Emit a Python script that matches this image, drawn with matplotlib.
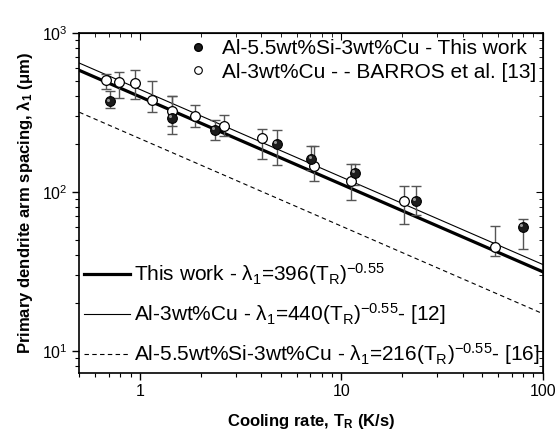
import matplotlib
matplotlib.use("Agg")
import matplotlib.pyplot as plt
import matplotlib.transforms as mtransforms
from matplotlib.lines import Line2D
import numpy as np

plt.rcParams["font.family"] = ["Liberation Sans", "DejaVu Sans"]
plt.rcParams["mathtext.fontset"] = "custom"
plt.rcParams["mathtext.rm"] = "Liberation Sans"
plt.rcParams["mathtext.it"] = "Liberation Sans"
plt.rcParams["mathtext.bf"] = "Liberation Sans:bold"
plt.rcParams["mathtext.default"] = "regular"

# ---- data: this work (Al-5.5wt%Si-3wt%Cu) ----
tr_work = [0.71, 1.44, 2.36, 4.79, 7.09, 11.65, 23.5, 79.8]
lam_work = [370, 293, 245, 200, 161, 131, 87.5, 60]
err_lo_work = [32, 61, 33, 52, 24, 21, 16, 16]
err_up_work = [61, 105, 36, 45, 32, 18, 22, 7]

# ---- data: Al-3wt%Cu, BARROS et al. ----
tr_barros = [0.68, 0.79, 0.94, 1.15, 1.45, 1.88, 2.62, 4.03, 7.34, 11.2, 20.4, 57.7]
lam_barros = [506, 490, 480, 378, 324, 299, 260, 218, 146, 117, 87.5, 45.3]
err_lo_barros = [61, 100, 95, 61, 66, 45, 37, 58, 29, 28, 25, 6]
err_up_barros = [46, 80, 100, 116, 74, 53, 42, 31, 47, 32, 22, 16]

# ---- fitted power laws lambda = A * TR^b ----
fit_coef = [396, 440, 216]
fit_exp = -0.55
fit_labels = [
    r"This work - λ$_1$=396(T$_R$)$^{-0.55}$",
    r"Al-3wt%Cu - λ$_1$=440(T$_R$)$^{-0.55}$- [12]",
    r"Al-5.5wt%Si-3wt%Cu - λ$_1$=216(T$_R$)$^{-0.55}$- [16]",
]

fig = plt.figure(figsize=(5.56, 4.41), dpi=100)
ax = fig.add_axes([0.1426, 0.1549, 0.8335, 0.7710])
ax.set_xscale("log")
ax.set_yscale("log")
ax.set_xlim(0.5, 100)
ax.set_ylim(7.3, 1000)

xfit = np.logspace(np.log10(0.5), 2, 200)
styles = [dict(color="black", lw=2.3, ls="-"),
          dict(color="black", lw=0.8, ls="-"),
          dict(color="black", lw=0.8, ls=(0, (4, 3)))]
for a, st in zip(fit_coef, styles):
    ax.plot(xfit, a * xfit ** fit_exp, **st, zorder=2)

ax.errorbar(tr_barros, lam_barros, yerr=[err_lo_barros, err_up_barros], fmt="none",
            ecolor="#555555", elinewidth=1, capsize=3.5, capthick=1, zorder=3)
ax.errorbar(tr_work, lam_work, yerr=[err_lo_work, err_up_work], fmt="none",
            ecolor="#555555", elinewidth=1, capsize=3.5, capthick=1, zorder=3)
ax.plot(tr_barros, lam_barros, "o", ms=7, mfc="white", mec="black", mew=0.9, zorder=4)
ax.plot(tr_work, lam_work, "o", ms=7, mfc="#1c1c1c", mec="black", mew=0.8, zorder=5)
# highlight to mimic the shaded spheres
hl = mtransforms.offset_copy(ax.transData, fig=fig, x=-1.2, y=1.2, units="points")
ax.plot(tr_work, lam_work, "o", ms=2.2, mfc="#9a9a9a", mec="none", transform=hl, zorder=6)

# ticks: outside on left/bottom, inside on top/right
ax.tick_params(which="both", direction="out", top=False, right=False, labelsize=11.5)
ax.tick_params(which="major", length=5, width=1)
ax.tick_params(which="minor", length=3, width=0.8)
sx = ax.secondary_xaxis("top")
sx.tick_params(which="both", direction="in", labeltop=False)
sx.tick_params(which="major", length=5)
sx.tick_params(which="minor", length=3)
sy = ax.secondary_yaxis("right")
sy.tick_params(which="both", direction="in", labelright=False)
sy.tick_params(which="major", length=5)
sy.tick_params(which="minor", length=3)
ax.set_xticks([1, 10, 100])
ax.set_xticklabels(["1", "10", "100"])
for sp in ax.spines.values():
    sp.set_linewidth(1.2)

ax.set_xlabel(r"Cooling rate, $\mathbf{T_R}$ (K/s)", fontsize=12, fontweight="bold", labelpad=9)
ax.set_ylabel(r"Primary dendrite arm spacing, λ$\mathbf{_1}$ (μm)", fontsize=12,
              fontweight="bold", labelpad=5)

# legends
marker_handles = [
    Line2D([], [], ls="none", marker="o", ms=5.5, mfc="#1c1c1c", mec="black"),
    Line2D([], [], ls="none", marker="o", ms=5.5, mfc="white", mec="black", mew=0.8),
]
leg1 = ax.legend(marker_handles, ["Al-5.5wt%Si-3wt%Cu - This work",
                                  "Al-3wt%Cu - - BARROS et al. [13]"],
                 loc="upper right", bbox_to_anchor=(1.0, 1.0), frameon=False,
                 fontsize=15, handlelength=1.0, handletextpad=0.65, labelspacing=0.22,
                 borderaxespad=0.1, borderpad=0.2)
ax.add_artist(leg1)
line_handles = [Line2D([], [], **st) for st in styles]
ax.legend(line_handles, fit_labels, loc="lower left", bbox_to_anchor=(0.0, 0.0),
          frameon=False, fontsize=15, handlelength=2.2, handletextpad=0.2,
          labelspacing=0.68, borderaxespad=0.0, borderpad=0.25)

fig.savefig("out.png", dpi=100)
